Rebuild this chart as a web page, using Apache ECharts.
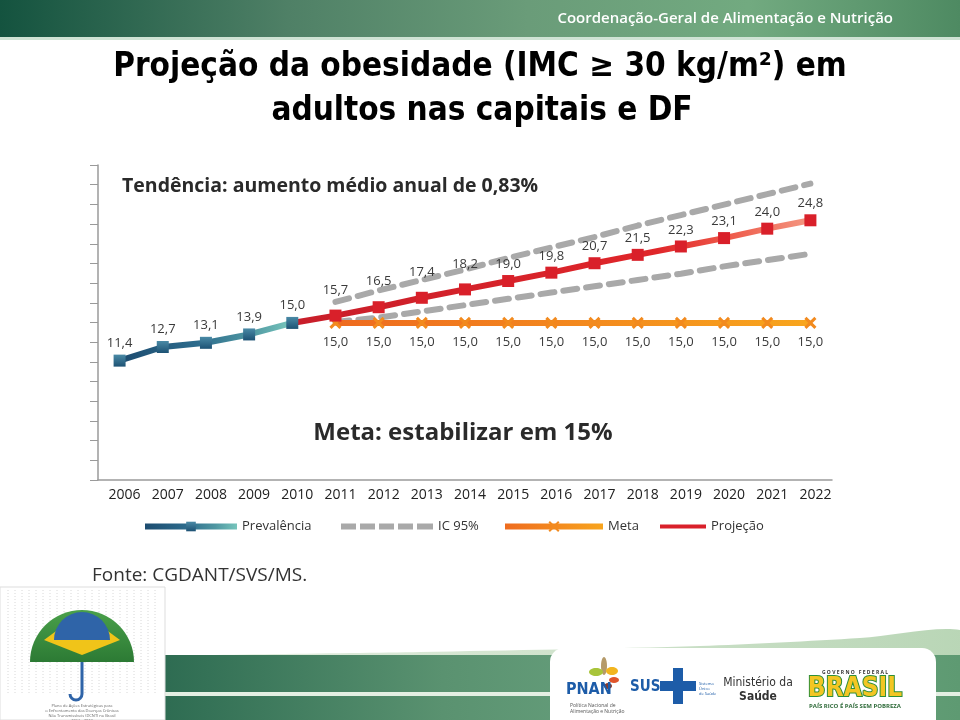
<!DOCTYPE html>
<html><head><meta charset="utf-8">
<script src="https://cdn.jsdelivr.net/npm/echarts@6/dist/echarts.min.js"></script>
<style>html,body{margin:0;padding:0;background:#fff}#c{width:960px;height:720px}</style>
</head><body><div id="c"></div>
<script>
// ---- data ----
const years = ['2006','2007','2008','2009','2010','2011','2012','2013','2014','2015','2016','2017','2018','2019','2020','2021','2022'];
const prevalencia = [11.4, 12.7, 13.1, 13.9, 15.0, null, null, null, null, null, null, null, null, null, null, null, null];
const projecao   = [null, null, null, null, 15.0, 15.7, 16.5, 17.4, 18.2, 19.0, 19.8, 20.7, 21.5, 22.3, 23.1, 24.0, 24.8];
const meta       = [null, null, null, null, null, 15.0, 15.0, 15.0, 15.0, 15.0, 15.0, 15.0, 15.0, 15.0, 15.0, 15.0, 15.0];
const icSuperior = [null, null, null, null, null, 17.0, 18.1, 19.1, 20.1, 21.2, 22.2, 23.2, 24.3, 25.3, 26.3, 27.3, 28.3];
const icInferior = [null, null, null, null, null, 15.1, 15.5, 16.1, 16.7, 17.3, 17.9, 18.5, 19.1, 19.7, 20.4, 21.0, 21.6];
const tendenciaTexto = 'Tendência: aumento médio anual de 0,83%';
const metaTexto = 'Meta: estabilizar em 15%';
const fonteTexto = 'Fonte: CGDANT/SVS/MS.';

// ---- helpers ----
const fmt = v => v.toFixed(1).replace('.', ',');
const FONT = '"Open Sans", "DejaVu Sans", sans-serif';
const TFONT = '"DejaVu Sans Condensed", "Open Sans", sans-serif';
const xPath = 'path://M0,0 L10,10 M10,0 L0,10 M0,0 L10,10';
const dashIcon = 'path://M0,0h15v6h-15z M19,0h15v6h-15z M38,0h15v6h-15z M57,0h15v6h-15z M76,0h16v6h-16z';
const labelBase = { color: '#3a3a3a', fontSize: 13, fontFamily: FONT, formatter: p => fmt(p.value) };

const projData = projecao.map((v, i) => {
  if (v == null) return null;
  if (prevalencia[i] != null) return { value: v, symbol: 'none', label: { show: false } };
  return { value: v, label: { distance: Number(years[i]) <= 2014 ? 13 : 4 } };
});

// decorative matrix lines behind umbrella
const matrixLines = [];
for (let x = 8; x < 160; x += 7) {
  matrixLines.push({ type: 'line', shape: { x1: x, y1: 590, x2: x, y2: 695 },
    style: { stroke: '#d8d8d8', lineWidth: 1, lineDash: [1, 2] }, z: 1 });
}

const legendText = { color: '#333', fontSize: 13, fontFamily: FONT };

const option = {
  backgroundColor: '#ffffff',
  animation: false,
  grid: { left: 98, right: 128, top: 165, bottom: 240 },
  xAxis: {
    type: 'category', data: years, boundaryGap: true,
    axisLine: { lineStyle: { color: '#9a9a9a', width: 1.5 } },
    axisTick: { show: false },
    axisLabel: { color: '#222', fontSize: 14, fontFamily: FONT, margin: 8, padding: [0, 0, 0, 10] }
  },
  yAxis: {
    type: 'value', min: 0, max: 30.08, interval: 1.88,
    axisLine: { show: true, lineStyle: { color: '#9a9a9a', width: 1.5 } },
    axisTick: { show: true, inside: false, length: 8, lineStyle: { color: '#9a9a9a' } },
    axisLabel: { show: false },
    splitLine: { show: false }
  },
  legend: [
    { left: 137, top: 515, itemWidth: 92, itemHeight: 12, data: ['Prevalência'], textStyle: legendText,
      lineStyle: { width: 6 } },
    { left: 336, top: 515, itemWidth: 92, itemHeight: 6, data: [{ name: 'IC 95%', icon: dashIcon }],
      itemStyle: { color: '#a9a9a9' }, textStyle: legendText },
    { left: 497, top: 515, itemWidth: 98, itemHeight: 12, data: ['Meta'], textStyle: legendText,
      lineStyle: { width: 6 } },
    { left: 655, top: 515, itemWidth: 46, itemHeight: 4, data: [{ name: 'Projeção', icon: 'rect' }],
      textStyle: legendText }
  ],
  series: [
    { name: 'IC 95%', type: 'line', data: icSuperior, symbol: 'none', z: 1,
      itemStyle: { color: '#a9a9a9' },
      lineStyle: { color: '#a9a9a9', width: 6, type: [14, 9], cap: 'round' } },
    { name: 'IC 95%', type: 'line', data: icInferior, symbol: 'none', z: 1,
      itemStyle: { color: '#a9a9a9' },
      lineStyle: { color: '#a9a9a9', width: 6, type: [14, 9], cap: 'round' } },
    { name: 'Meta', type: 'line', data: meta, symbol: xPath, symbolSize: 10, z: 2,
      itemStyle: { color: '#f28a1e', borderColor: '#f28a1e', borderWidth: 3 },
      lineStyle: { width: 6, color: { type: 'linear', x: 0, y: 0, x2: 1, y2: 0,
        colorStops: [{ offset: 0, color: '#ee6a1f' }, { offset: 1, color: '#f8a61d' }] } },
      label: { show: true, position: 'bottom', distance: 6, ...labelBase } },
    { name: 'Prevalência', type: 'line', data: prevalencia, symbol: 'rect', symbolSize: 12, z: 4,
      itemStyle: { color: { type: 'linear', x: 0, y: 0, x2: 0, y2: 1,
        colorStops: [{ offset: 0, color: '#4a8aa6' }, { offset: 1, color: '#1d5274' }] } },
      lineStyle: { width: 6, color: { type: 'linear', x: 0, y: 0, x2: 1, y2: 0,
        colorStops: [{ offset: 0, color: '#1c4a6e' }, { offset: 0.45, color: '#2c6b8c' }, { offset: 0.75, color: '#4f97a2' }, { offset: 1, color: '#7ccbbf' }] } },
      label: { show: true, position: 'top', distance: 5, ...labelBase } },
    { name: 'Projeção', type: 'line', data: projData, symbol: 'rect', symbolSize: 12, z: 3,
      itemStyle: { color: '#d9202a' },
      lineStyle: { width: 6, color: { type: 'linear', x: 0, y: 0, x2: 1, y2: 0,
        colorStops: [{ offset: 0, color: '#c81e2a' }, { offset: 0.7, color: '#e0262a' }, { offset: 0.84, color: '#ee5a4a' }, { offset: 1, color: '#f49a84' }] } },
      label: { show: true, position: 'top', ...labelBase } }
  ],
  graphic: [
    // header bar
    { type: 'rect', shape: { x: 0, y: 0, width: 960, height: 37 }, z: 0,
      style: { fill: { type: 'linear', x: 0, y: 0, x2: 1, y2: 0,
        colorStops: [{ offset: 0, color: '#14533f' }, { offset: 0.3, color: '#4f8066' }, { offset: 0.55, color: '#6a9c79' }, { offset: 0.78, color: '#72aa80' }, { offset: 1, color: '#4e8a62' }] } } },
    { type: 'rect', shape: { x: 0, y: 37, width: 960, height: 3 }, z: 0, style: { fill: '#cfe3d4' } },
    { type: 'text', x: 893, y: 19, z: 5, style: { text: 'Coordenação-Geral de Alimentação e Nutrição', fill: '#ffffff',
      font: '600 15px ' + FONT, align: 'right', verticalAlign: 'middle' } },
    // title
    { type: 'text', x: 480, y: 67, z: 5, style: { text: 'Projeção da obesidade (IMC ≥ 30 kg/m²) em', fill: '#000',
      font: 'bold 33px ' + TFONT, align: 'center', verticalAlign: 'middle' } },
    { type: 'text', x: 482, y: 111, z: 5, style: { text: 'adultos nas capitais e DF', fill: '#000',
      font: 'bold 33px ' + TFONT, align: 'center', verticalAlign: 'middle' } },
    // annotations
    { type: 'text', x: 122, y: 186, z: 5, style: { text: tendenciaTexto, fill: '#2a2a2a',
      font: 'bold 19.5px ' + FONT, align: 'left', verticalAlign: 'middle' } },
    { type: 'text', x: 463, y: 433, z: 5, style: { text: metaTexto, fill: '#2a2a2a',
      font: 'bold 24px ' + FONT, align: 'center', verticalAlign: 'middle' } },
    { type: 'text', x: 92, y: 576, z: 5, style: { text: fonteTexto, fill: '#333',
      font: '19px ' + FONT, align: 'left', verticalAlign: 'middle' } },
    // footer band
    { type: 'polygon', z: 0, shape: { points: [[165, 656], [420, 652], [700, 646], [860, 638], [960, 630], [960, 656]], smooth: 0.3 },
      style: { fill: { type: 'linear', x: 0, y: 0, x2: 1, y2: 0,
        colorStops: [{ offset: 0, color: '#e6efe2' }, { offset: 1, color: '#b9d6b6' }] } } },
    { type: 'rect', z: 0, shape: { x: 165, y: 655, width: 795, height: 65 },
      style: { fill: { type: 'linear', x: 0, y: 0, x2: 1, y2: 0,
        colorStops: [{ offset: 0, color: '#2e6c52' }, { offset: 0.35, color: '#5a9270' }, { offset: 0.7, color: '#6ea783' }, { offset: 1, color: '#5e9a72' }] } } },
    { type: 'rect', z: 0, shape: { x: 165, y: 692, width: 795, height: 4 }, style: { fill: '#e4efe3' } },
    // logo box
    { type: 'rect', z: 1, shape: { x: 550, y: 648, width: 386, height: 72, r: [14, 14, 0, 0] }, style: { fill: '#ffffff' } },
    // PNAN logo
    { type: 'ellipse', z: 2, shape: { cx: 604, cy: 666, rx: 3, ry: 9 }, style: { fill: '#b59a6a' } },
    { type: 'ellipse', z: 2, shape: { cx: 596, cy: 672, rx: 7, ry: 4 }, style: { fill: '#a8c43a' } },
    { type: 'ellipse', z: 2, shape: { cx: 612, cy: 671, rx: 6, ry: 4 }, style: { fill: '#f2b51f' } },
    { type: 'ellipse', z: 2, shape: { cx: 614, cy: 680, rx: 5, ry: 3 }, style: { fill: '#e0542a' } },
    { type: 'ellipse', z: 2, shape: { cx: 608, cy: 686, rx: 4, ry: 3 }, style: { fill: '#8a3a2a' } },
    { type: 'text', x: 566, y: 690, z: 2, style: { text: 'PNAN', fill: '#1d5ca8', font: 'bold 16px ' + TFONT, verticalAlign: 'middle' } },
    { type: 'text', x: 570, y: 703, z: 2, style: { text: 'Política Nacional de\nAlimentação e Nutrição', fill: '#555', font: '5px ' + FONT, lineHeight: 6 } },
    // SUS logo
    { type: 'text', x: 630, y: 687, z: 2, style: { text: 'SUS', fill: '#1d5ca8', font: 'bold 15px ' + TFONT, verticalAlign: 'middle' } },
    { type: 'rect', z: 2, shape: { x: 673, y: 668, width: 10, height: 36 }, style: { fill: '#1d5ca8' } },
    { type: 'rect', z: 2, shape: { x: 660, y: 681, width: 36, height: 10 }, style: { fill: '#1d5ca8' } },
    { type: 'text', x: 699, y: 681, z: 2, style: { text: 'Sistema\nÚnico\nde Saúde', fill: '#1d5ca8', font: '4px ' + FONT, lineHeight: 5 } },
    // Ministério
    { type: 'text', x: 758, y: 683, z: 2, style: { text: 'Ministério da', fill: '#333', font: '12px ' + TFONT, align: 'center', verticalAlign: 'middle' } },
    { type: 'text', x: 758, y: 697, z: 2, style: { text: 'Saúde', fill: '#333', font: 'bold 12px ' + TFONT, align: 'center', verticalAlign: 'middle' } },
    // Governo Federal Brasil
    { type: 'text', x: 855, y: 673, z: 2, style: { text: 'G O V E R N O   F E D E R A L', fill: '#333', font: 'bold 5px ' + FONT, align: 'center', verticalAlign: 'middle' } },
    { type: 'text', x: 855, y: 689, z: 2, style: { text: 'BRASIL', fill: '#f3c623', stroke: '#2f8f38', lineWidth: 2, font: 'bold 26px ' + TFONT, align: 'center', verticalAlign: 'middle' } },
    { type: 'text', x: 855, y: 706, z: 2, style: { text: 'PAÍS RICO É PAÍS SEM POBREZA', fill: '#2f6b3a', font: 'bold 6px ' + FONT, align: 'center', verticalAlign: 'middle' } },
    // umbrella panel
    { type: 'rect', z: 0, shape: { x: 0, y: 587, width: 165, height: 133 }, style: { fill: '#ffffff', stroke: '#dddddd', lineWidth: 1 } },
    ...matrixLines,
    { type: 'sector', z: 2, shape: { cx: 82, cy: 662, r: 52, startAngle: Math.PI, endAngle: 2 * Math.PI },
      style: { fill: { type: 'linear', x: 0, y: 0, x2: 0, y2: 1, colorStops: [{ offset: 0, color: '#4aa04a' }, { offset: 1, color: '#2c7a34' }] } } },
    { type: 'polygon', z: 3, shape: { points: [[44, 640], [82, 612], [120, 640], [82, 655]] }, style: { fill: '#f0c419' } },
    { type: 'sector', z: 4, shape: { cx: 82, cy: 640, r: 28, startAngle: Math.PI, endAngle: 2 * Math.PI }, style: { fill: '#2f64a8' } },
    { type: 'line', z: 4, shape: { x1: 82, y1: 662, x2: 82, y2: 694 }, style: { stroke: '#2f64a8', lineWidth: 3 } },
    { type: 'arc', z: 4, shape: { cx: 76, cy: 694, r: 6, startAngle: 0, endAngle: Math.PI }, style: { stroke: '#2f64a8', lineWidth: 3, fill: null } },
    { type: 'text', x: 82, y: 703, z: 4, style: { text: 'Plano de Ações Estratégicas para\no Enfrentamento das Doenças Crônicas\nNão Transmissíveis (DCNT) no Brasil\n2011 - 2022',
      fill: '#666', font: '4px ' + FONT, align: 'center', lineHeight: 5 } }
  ]
};

const chart = echarts.init(document.getElementById('c'), null, { renderer: 'canvas' });
chart.setOption(option);
</script></body></html>
